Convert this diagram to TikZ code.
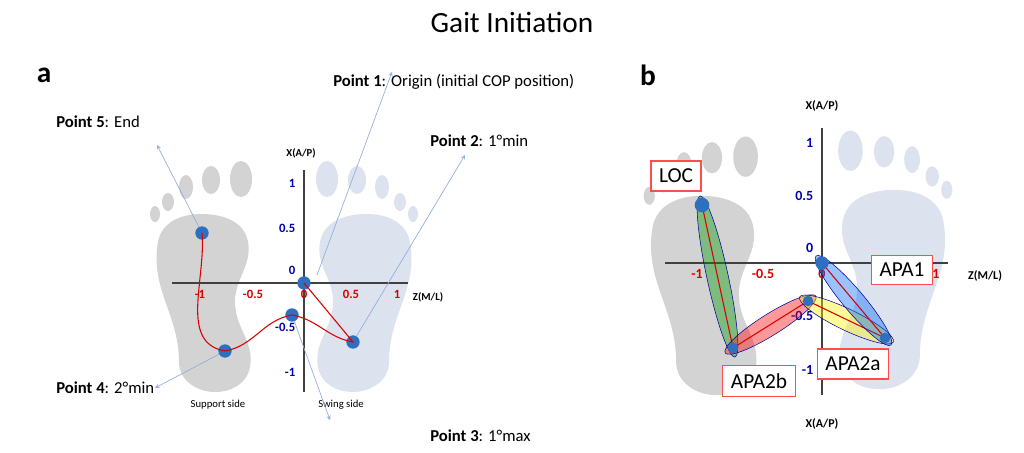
\documentclass[tikz,border=0pt]{standalone}
\usepackage{fontspec}
\setmainfont{Carlito}
\usetikzlibrary{calc,shapes.geometric}
\definecolor{fg}{HTML}{D3D3D3}
\definecolor{fb}{HTML}{DCE3EE}
\definecolor{dotc}{HTML}{2F6FC0}
\begin{document}
\begin{tikzpicture}[x=0.75pt,y=-0.75pt,
 dot/.style={circle,fill=dotc,inner sep=0pt,minimum size=10pt},
 ax/.style={draw=black!75,line width=0.9pt},
 zl/.style={text=red!85!black,font=\bfseries\fontsize{9.5}{10}\selectfont},
 xl/.style={text=blue!70!black,font=\bfseries\fontsize{9.5}{10}\selectfont},
 arr/.style={draw=cyan!50!blue!45,line width=0.5pt,->,>=stealth},
 path/.style={draw=red!85!black,line width=0.8pt},
 lbl/.style={font=\fontsize{12.5}{14}\selectfont,anchor=west,inner sep=0pt},
 box/.style={draw=red!70,fill=white,font=\fontsize{16}{18}\selectfont,inner sep=6pt,line width=0.8pt},
 grayfoot/.style={fill=fg},
 bluefoot/.style={fill=fb}]
\useasboundingbox (0,0) rectangle (1024,453);
\newcommand\myfoot[1]{%
 \path[#1] (-45,-40) to[out=80,in=180] (-2,-68) to[out=0,in=100] (45,-40) to[out=-80,in=90] (32,20) to[out=-90,in=80] (47,85) to[out=-100,in=0] (12,110) to[out=180,in=-90] (-24,80) to[out=90,in=-100] (-45,-40) -- cycle;
 \path[#1] (-48,-68) ellipse [x radius=5,y radius=8];
 \path[#1] (-35,-80) ellipse [x radius=6,y radius=9];
 \path[#1] (-17,-95) ellipse [x radius=7,y radius=12];
 \path[#1] (8,-102) ellipse [x radius=9,y radius=14];
 \path[#1] (38,-103) ellipse [x radius=11,y radius=18];}
\node[font=\fontsize{22}{26}\selectfont] (title) at (512,22) {Gait Initiation};
\node[font=\fontsize{22}{26}\selectfont\bfseries] (la) at (44,75) {a};
\node[font=\fontsize{22}{26}\selectfont\bfseries] (lb) at (648,75) {b};
% panel a feet
\begin{scope}[shift={(203,282)}] \myfoot{grayfoot} \end{scope}
\begin{scope}[shift={(365,282)},xscale=-1] \myfoot{bluefoot} \end{scope}
\draw[ax] (172,283) -- (408,283);
\draw[ax] (304,170) -- (304,392);
\foreach \v/\x in {-1/200,-0.5/253,0/304,0.5/351,1/397} \node[zl] at (\x,294) {\v};
\foreach \v/\y in {1/183,0.5/228,0/270,-0.5/327,-1/372} \node[xl,anchor=east] at (300,\y) {\v};
\node[font=\bfseries\fontsize{8}{9}\selectfont] (xa) at (301,153) {X(A/P)};
\node[font=\bfseries\fontsize{8}{9}\selectfont] (za) at (428,297) {Z(M/L)};
\node[font=\fontsize{8}{9}\selectfont] (ss) at (218,405) {Support side};
\node[font=\fontsize{8}{9}\selectfont] (sw) at (341,405) {Swing side};
\node[dot] (p1) at (304,283) {};
\node[dot] (p2) at (353,342) {};
\node[dot] (p3) at (292,315) {};
\node[dot] (p4) at (225,351) {};
\node[dot] (p5) at (202,233) {};
\draw[path] (p1.center) -- (p2.center) to[out=170,in=-10] (p3.center) to[out=190,in=10] (p4.center) to[out=170,in=-85] (p5.center);
\coordinate (e1) at (392,72); \coordinate (e2) at (465,155); \coordinate (e3) at (330,420);
\coordinate (e4) at (155,388); \coordinate (e5) at (157,145);
\draw[arr] (317,275) -- (e1);
\draw[arr] (p2) -- (e2);
\draw[arr] (p3) -- (e3);
\draw[arr] (p4) -- (e4);
\draw[arr] (p5) -- (e5);
\node[lbl] (t1) at (333,82) {\textbf{Point 1}: Origin (initial COP position)};
\node[lbl] (t2) at (430,141) {\textbf{Point 2}: 1°min};
\node[lbl] (t3) at (430,436) {\textbf{Point 3}: 1°max};
\node[lbl] (t4) at (56,388) {\textbf{Point 4}: 2°min};
\node[lbl] (t5) at (56,122) {\textbf{Point 5}: End};
% panel b
\begin{scope}[shift={(703,272)},scale=1.12] \myfoot{grayfoot} \end{scope}
\begin{scope}[shift={(893,266)},xscale=-1.12,yscale=1.12] \myfoot{bluefoot} \end{scope}
\draw[ax] (665,263) -- (948,263);
\draw[ax] (822,128) -- (822,395);
\foreach \v/\x in {-1/697,-0.5/763,0/822,1/936} \node[zl,font=\bfseries\fontsize{10.5}{11}\selectfont] at (\x,274) {\v};
\foreach \v/\y in {1/143,0.5/196,0/248,-0.5/316,-1/370} \node[xl,font=\bfseries\fontsize{10.5}{11}\selectfont,anchor=east] at (818,\y) {\v};
\node[font=\bfseries\fontsize{9}{10}\selectfont] (xb) at (822,106) {X(A/P)};
\node[font=\bfseries\fontsize{9}{10}\selectfont] (xb2) at (822,424) {X(A/P)};
\node[font=\bfseries\fontsize{9}{10}\selectfont] (zb) at (985,276) {Z(M/L)};
\coordinate (q0) at (822,263); \coordinate (q1) at (885,338); \coordinate (q2) at (808,301);
\coordinate (q3) at (733,348); \coordinate (q4) at (702,205);
\foreach \a/\b/\c in {q4/q3/green!60!black,q3/q2/red,q2/q1/yellow,q0/q1/blue!60!cyan}{
 \path let \p1=($(\b)-(\a)$), \n1={atan2(\y1,\x1)}, \n2={veclen(\x1,\y1)/2} in
  ($(\a)!0.5!(\b)$) node[draw=blue!60!black,fill=\c,fill opacity=0.4,ellipse,minimum width=2*\n2+14pt,minimum height=16pt,inner sep=0pt,rotate=\n1] {};
 \draw[path] (\a) -- (\b);}
\node[dot] (b0) at (q0) {};
\node[dot,minimum size=8pt] (b1) at (q1) {};
\node[dot,minimum size=8pt] (b2) at (q2) {};
\node[dot,minimum size=8pt] (b3) at (q3) {};
\node[dot,minimum size=11pt] (b4) at (q4) {};
\node[box] (loc) at (676,176) {LOC};
\node[box] (apa1) at (902,270) {APA1};
\node[box] (apa2a) at (853,364) {APA2a};
\node[box] (apa2b) at (759,381) {APA2b};
\end{tikzpicture}
\end{document}
